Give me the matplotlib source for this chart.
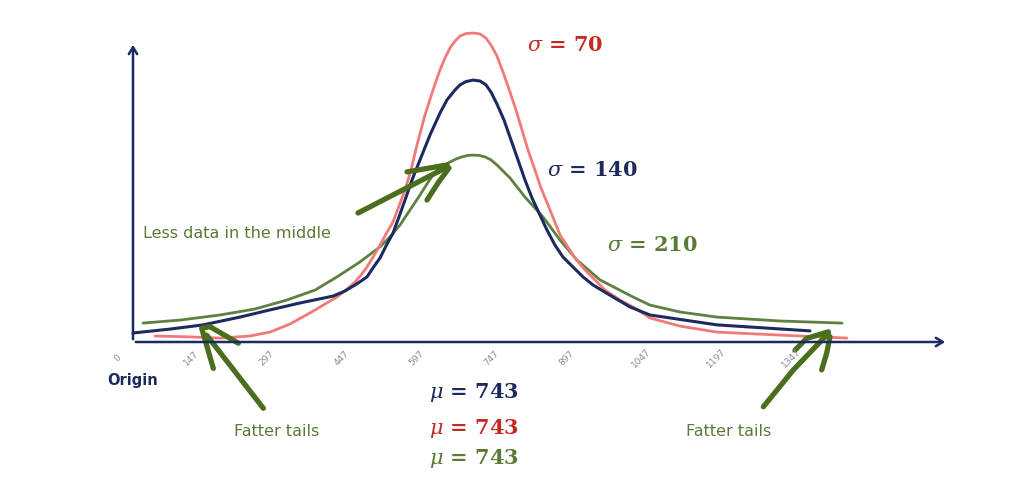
import matplotlib
matplotlib.use("Agg")
import matplotlib.pyplot as plt

plt.rcParams['mathtext.fontset'] = 'dejavuserif'

# ---- curves (x = value, y = relative density) ----
red_x = [74, 144, 204, 264, 304, 344, 384, 438, 456, 474, 486, 498, 510, 524, 536, 550, 562, 574, 586, 598,
         614, 630, 644, 654, 664, 674, 684, 696, 710, 724, 736, 746, 758, 770, 784, 796, 808, 820, 834,
         846, 860, 872, 884, 914, 934, 954, 974, 1004, 1034, 1064, 1124, 1198, 1324, 1458]
red_y = [2.0, 1.7, 1.3, 2.0, 3.3, 6.0, 9.7, 15.0, 17.3, 20.0, 22.3, 25.0, 28.3, 32.3, 36.0, 40.0, 45.3, 50.7, 57.3, 65.7,
         75.7, 84.0, 90.7, 94.7, 98.0, 100.3, 102.0, 102.8, 103.0, 102.7, 101.3, 99.0, 95.3, 90.0, 83.3, 77.3, 70.7, 64.0, 57.3,
         51.3, 45.7, 40.7, 35.7, 28.0, 24.0, 20.7, 17.3, 14.0, 11.3, 8.0, 5.3, 3.3, 2.3, 1.3]

blue_x = [30, 104, 170, 244, 304, 364, 430, 454, 474, 486, 498, 510, 524, 536, 550, 562, 574, 588, 604, 624,
          644, 658, 674, 684, 696, 710, 724, 736, 746, 758, 772, 784, 800, 814, 828, 844, 858, 874, 890,
          910, 930, 950, 990, 1024, 1064, 1198, 1384]
blue_y = [3.0, 4.3, 5.7, 8.3, 10.7, 13.0, 15.3, 17.0, 19.0, 20.3, 21.7, 24.7, 28.0, 32.0, 36.3, 41.7, 47.3, 54.0, 60.7, 69.0,
          76.3, 80.7, 84.0, 85.7, 86.8, 87.3, 87.0, 85.7, 83.3, 79.3, 74.0, 68.3, 60.7, 54.0, 48.0, 42.3, 37.3, 32.3, 28.3,
          25.0, 21.7, 19.0, 15.0, 11.7, 9.0, 5.7, 3.7]

green_x = [50, 124, 204, 274, 338, 394, 438, 484, 524, 544, 564, 584, 604, 618, 630, 644, 664, 676, 688, 700, 710,
           722, 734, 746, 758, 770, 784, 798, 814, 850, 884, 918, 964, 1030, 1064, 1124, 1198, 1324, 1448]
green_y = [6.3, 7.3, 9.0, 11.0, 14.0, 17.3, 21.7, 26.7, 31.7, 35.0, 39.0, 44.0, 49.0, 52.7, 55.7, 58.0, 60.0, 61.0, 61.7, 62.2, 62.3,
           62.2, 61.7, 60.7, 59.0, 57.0, 54.7, 51.7, 48.3, 41.7, 34.0, 27.3, 20.7, 15.0, 12.3, 10.0, 8.3, 7.0, 6.3]

ticks = [0, 147, 297, 447, 597, 747, 897, 1047, 1197, 1347]
sigmas = [70, 140, 210]
mu = 743

RED_LINE = '#f07a78'
RED_TXT = '#c42a1f'
NAVY = '#1c2b5f'
GREEN_LINE = '#5e8040'
GREEN_TXT = '#5a7a35'
GREEN_PEN = '#4a6e1e'

fig = plt.figure(figsize=(10.24, 4.79), dpi=100)
ax = fig.add_axes([0, 0, 1, 1])
ax.set_xlim(-236, 1812)
ax.set_ylim(-45.67, 114)
ax.axis('off')

# axes with arrow heads
ax.annotate('', xy=(30, 100), xytext=(30, 0),
            arrowprops=dict(arrowstyle='->,head_length=0.5,head_width=0.3', color=NAVY, lw=1.8))
ax.annotate('', xy=(1660, 0), xytext=(30, 0),
            arrowprops=dict(arrowstyle='->,head_length=0.5,head_width=0.3', color=NAVY, lw=1.8))

ax.plot(green_x, green_y, color=GREEN_LINE, lw=2.0, solid_capstyle='round', solid_joinstyle='round')
ax.plot(red_x, red_y, color=RED_LINE, lw=2.0, solid_capstyle='round', solid_joinstyle='round')
ax.plot(blue_x, blue_y, color=NAVY, lw=2.2, solid_capstyle='round', solid_joinstyle='round')

for t in ticks:
    ax.text(t, -5.3, str(t), rotation=45, ha='center', va='center', fontsize=6.5, color='#8a8a8a')

# sigma labels
sig_pos = [(818, 99), (858, 57.3), (978, 32.3)]
sig_col = [RED_TXT, NAVY, GREEN_TXT]
for s, (x, y), c in zip(sigmas, sig_pos, sig_col):
    ax.text(x, y, r'$\sigma$ = ' + str(s), color=c, fontsize=15, fontweight='bold',
            family='DejaVu Serif', ha='left', va='center')

# mu labels
for y, c in zip([-17, -28.7, -38.7], [NAVY, RED_TXT, GREEN_TXT]):
    ax.text(712, y, r'$\mu$ = ' + str(mu), color=c, fontsize=15, fontweight='bold',
            family='DejaVu Serif', ha='center', va='center')

ax.text(50, 36.3, 'Less data in the middle', color=GREEN_TXT, fontsize=11.5, ha='left', va='center')
ax.text(-22, -12.7, 'Origin', color=NAVY, fontsize=10.5, fontweight='bold', ha='left', va='center')
ax.text(318, -30, 'Fatter tails', color=GREEN_TXT, fontsize=11.5, ha='center', va='center')
ax.text(1222, -30, 'Fatter tails', color=GREEN_TXT, fontsize=11.5, ha='center', va='center')

# hand drawn arrows
strokes = [
    [(480, 43.0), (658, 58.3)],
    [(578, 56.7), (658, 59.0)],
    [(618, 47.3), (640, 53.0), (662, 58.0)],
    [(190.7, -8.8), (167.3, 4.6), (184, 5.1), (240.7, -0.4)],
    [(290.7, -22.1), (177.3, 2.3)],
    [(1290.7, -21.6), (1350.7, -9.3), (1420.7, 2.9)],
    [(1354, -2.7), (1377.3, 1.2), (1420.7, 3.4)],
    [(1407.3, -9.3), (1417.3, -3.8), (1424, 1.8)],
]
for st in strokes:
    xs, ys = zip(*st)
    ax.plot(xs, ys, color=GREEN_PEN, lw=3.8, solid_capstyle='round', solid_joinstyle='round')

fig.savefig('out.png', dpi=100)
